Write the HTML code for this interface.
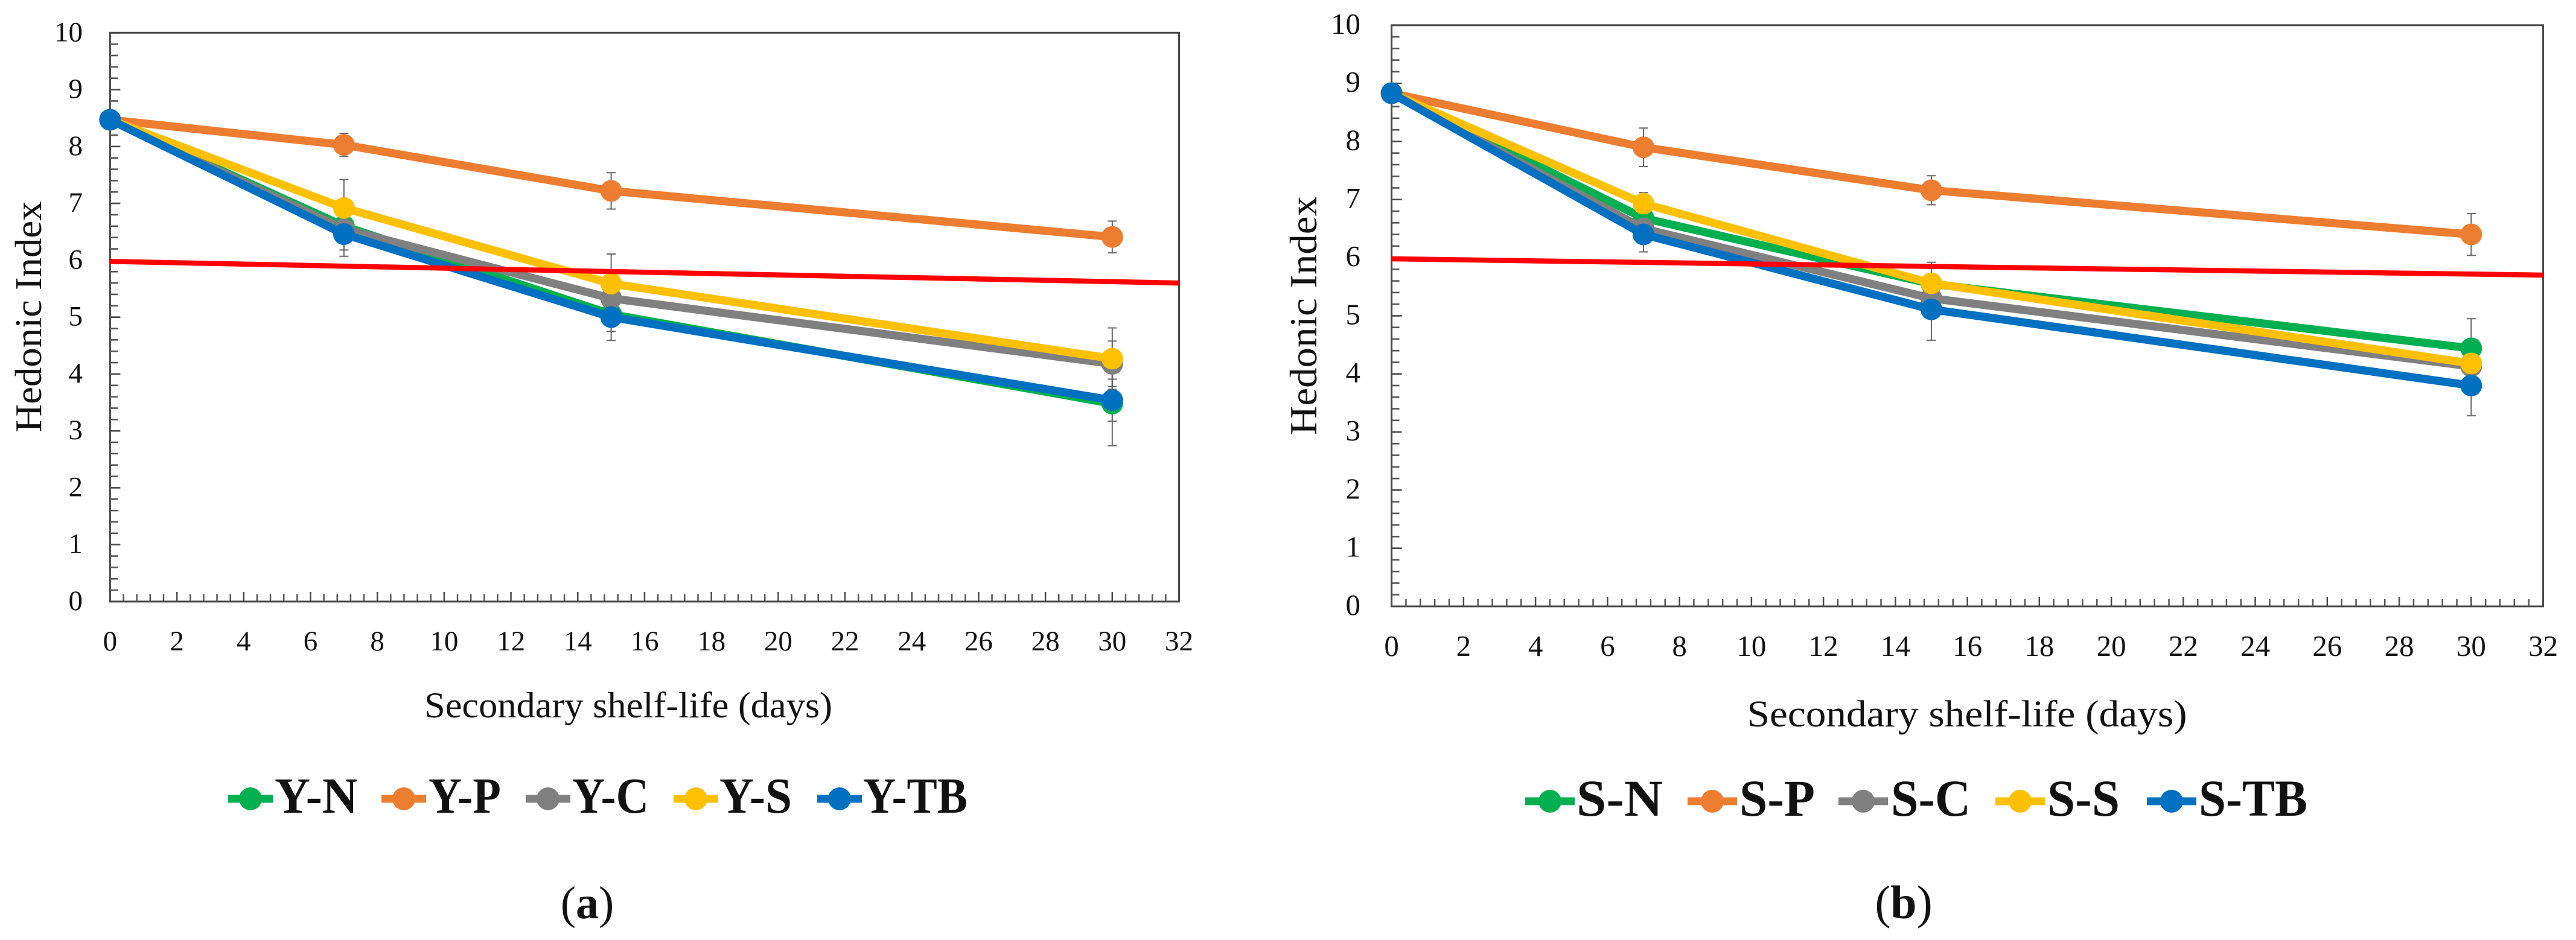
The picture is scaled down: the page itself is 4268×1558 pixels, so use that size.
<!DOCTYPE html>
<html lang="en">
<head>
<meta charset="utf-8">
<title>Hedonic Index over Secondary Shelf-life</title>
<style>
html,body{margin:0;padding:0;background:#fff;width:4268px;height:1558px;overflow:hidden}
svg{display:block}
text{font-family:"Liberation Serif",serif;fill:#111}
</style>
</head>
<body>
<svg id="figure" xmlns="http://www.w3.org/2000/svg" width="4268" height="1558" viewBox="0 0 4268 1558">
  <rect width="4268" height="1558" fill="#ffffff"/>
  <g id="panel-a"></g>
  <g id="panel-b"></g>

  <text transform="translate(68,525) rotate(-90)" text-anchor="middle" font-size="62" textLength="383" lengthAdjust="spacingAndGlyphs">Hedonic Index</text>
  <text x="1041" y="1189" text-anchor="middle" font-size="60" textLength="676" lengthAdjust="spacingAndGlyphs">Secondary shelf-life (days)</text>
  <text x="973" y="1522" text-anchor="middle" font-size="76">(<tspan font-weight="bold">a</tspan>)</text>

  <text transform="translate(2181,523) rotate(-90)" text-anchor="middle" font-size="64" textLength="396" lengthAdjust="spacingAndGlyphs">Hedonic Index</text>
  <text x="3259" y="1204" text-anchor="middle" font-size="62" textLength="729" lengthAdjust="spacingAndGlyphs">Secondary shelf-life (days)</text>
  <text x="3154" y="1522" text-anchor="middle" font-size="78">(<tspan font-weight="bold">b</tspan>)</text>
</svg>

<script>
// ---- Shared data ----
const days = [0, 7, 15, 30];
const xTickLabels = [0, 2, 4, 6, 8, 10, 12, 14, 16, 18, 20, 22, 24, 26, 28, 30, 32];
const yTickLabels = [0, 1, 2, 3, 4, 5, 6, 7, 8, 9, 10];
const thresholdDays = [0, 32];

// ---- Panel (a) values ----
const yNames = ['Y-N', 'Y-P', 'Y-C', 'Y-S', 'Y-TB'];
const yN = [8.47, 6.60, 5.05, 3.48];
const yP = [8.47, 8.03, 7.22, 6.41];
const yC = [8.47, 6.55, 5.33, 4.18];
const yS = [8.47, 6.92, 5.59, 4.27];
const yTB = [8.47, 6.46, 5.00, 3.54];
const yNErr = [0, 0.42, 0.30, 0.74];
const yPErr = [0, 0.20, 0.32, 0.28];
const yCErr = [0, 0.20, 0.30, 0.40];
const ySErr = [0, 0.50, 0.52, 0.54];
const yTBErr = [0, 0.39, 0.41, 0.37];
const thresholdA = [5.98, 5.60];

// ---- Panel (b) values ----
const sNames = ['S-N', 'S-P', 'S-C', 'S-S', 'S-TB'];
const sN = [8.83, 6.68, 5.55, 4.44];
const sP = [8.83, 7.90, 7.16, 6.40];
const sC = [8.83, 6.50, 5.30, 4.13];
const sS = [8.83, 6.93, 5.56, 4.18];
const sTB = [8.83, 6.40, 5.11, 3.80];
const sNErr = [0, 0.30, 0.30, 0.51];
const sPErr = [0, 0.33, 0.25, 0.36];
const sCErr = [0, 0.20, 0.30, 0.20];
const sSErr = [0, 0.19, 0.36, 0.20];
const sTBErr = [0, 0.30, 0.53, 0.52];
const thresholdB = [5.98, 5.70];

// ---- Styling ----
const seriesColors = ['#00B050', '#ED7D31', '#808080', '#FFC000', '#0070C0'];
const NS = 'http://www.w3.org/2000/svg';

function make(parent, tag, attrs) {
  const el = document.createElementNS(NS, tag);
  for (const k in attrs) el.setAttribute(k, attrs[k]);
  parent.appendChild(el);
  return el;
}

function drawPanel(root, cfg) {
  const sx = v => cfg.left + (v / 32) * (cfg.right - cfg.left);
  const sy = v => cfg.bottom - (v / 10) * (cfg.bottom - cfg.top);

  // Frame
  const frame = make(root, 'rect', {x: cfg.left, y: cfg.top, width: cfg.right - cfg.left, height: cfg.bottom - cfg.top, fill: 'none', stroke: '#4a4a4a', 'stroke-width': 3});
  
  

  // Y ticks: major on each label, four minors between
  yTickLabels.forEach((t, i) => {
    const major = make(root, 'line', {x1: cfg.left, x2: cfg.left + 17, y1: sy(t), y2: sy(t), stroke: '#4a4a4a', 'stroke-width': 2.6});
    
    
    const label = make(root, 'text', {x: cfg.yLabelX, y: sy(t) + 14, 'text-anchor': 'end', 'font-size': cfg.tickFont});
    label.textContent = t;
    
    
    if (i < yTickLabels.length - 1) {
      for (let m = 1; m < 5; m++) {
        const v = t + m * 0.2;
        const minor = make(root, 'line', {x1: cfg.left, x2: cfg.left + 13, y1: sy(v), y2: sy(v), stroke: '#555555', 'stroke-width': 2.6});
        
        
      }
    }
  });

  // X ticks: major on each label, four minors between
  xTickLabels.forEach((t, i) => {
    const major = make(root, 'line', {x1: sx(t), x2: sx(t), y1: cfg.bottom, y2: cfg.bottom - 16, stroke: '#4a4a4a', 'stroke-width': 2.5});
    
    
    const label = make(root, 'text', {x: sx(t), y: cfg.xLabelY, 'text-anchor': 'middle', 'font-size': cfg.tickFont});
    label.textContent = t;
    
    
    if (i < xTickLabels.length - 1) {
      for (let m = 1; m < 5; m++) {
        const v = t + m * 0.4;
        const minor = make(root, 'line', {x1: sx(v), x2: sx(v), y1: cfg.bottom, y2: cfg.bottom - 12, stroke: '#555555', 'stroke-width': 2.5});
        
        
      }
    }
  });

  // Error bars sit beneath the series
  cfg.series.forEach((vals, s) => {
    vals.forEach((v, i) => {
      const e = cfg.errors[s][i];
      if (!e) return;
      const x = sx(days[i]);
      const bar = make(root, 'path', {
        d: 'M' + x + ' ' + sy(v + e) + 'V' + sy(v - e) +
           'M' + (x - 7.5) + ' ' + sy(v + e) + 'H' + (x + 7.5) +
           'M' + (x - 7.5) + ' ' + sy(v - e) + 'H' + (x + 7.5),
        fill: 'none', stroke: '#666666', 'stroke-width': 2});
      
      
    });
  });

  // Series lines and markers
  cfg.series.forEach((vals, s) => {
    const line = make(root, 'polyline', {
      points: vals.map((v, i) => sx(days[i]) + ',' + sy(v)).join(' '),
      fill: 'none', stroke: seriesColors[s], 'stroke-width': 13.5, 'stroke-linejoin': 'round'});
    
    
    vals.forEach((v, i) => {
      const dot = make(root, 'circle', {cx: sx(days[i]), cy: sy(v), r: 18, fill: seriesColors[s]});
      
      
    });
  });

  // Red threshold line
  const red = make(root, 'line', {x1: sx(thresholdDays[0]), y1: sy(cfg.threshold[0]), x2: sx(thresholdDays[1]), y2: sy(cfg.threshold[1]), stroke: '#FF0000', 'stroke-width': 8.5});
  
  

  // Legend
  cfg.names.forEach((name, s) => {
    const entry = make(root, 'g', {});
    
    
    const cx = cfg.legendMarkerX[s];
    make(entry, 'line', {x1: cx - cfg.legendHalf, x2: cx + cfg.legendHalf, y1: cfg.legendY, y2: cfg.legendY, stroke: seriesColors[s], 'stroke-width': 13});
    make(entry, 'circle', {cx: cx, cy: cfg.legendY, r: 19, fill: seriesColors[s]});
    const t = make(entry, 'text', {x: cfg.legendTextX[s], y: cfg.legendBase, 'font-size': cfg.legendFont, 'font-weight': 'bold', textLength: cfg.legendTextW[s], lengthAdjust: 'spacingAndGlyphs', fill: '#000'});
    t.textContent = name;
  });
}

drawPanel(document.getElementById('panel-a'), {
  left: 182.4, right: 1953.5, top: 54.3, bottom: 997,
  yLabelX: 137, xLabelY: 1078, tickFont: 47,
  names: yNames,
  series: [yN, yP, yC, yS, yTB],
  errors: [yNErr, yPErr, yCErr, ySErr, yTBErr],
  threshold: thresholdA,
  legendMarkerX: [415, 669, 908, 1153, 1391],
  legendTextX: [455, 710, 948, 1192, 1430],
  legendTextW: [138, 120, 127, 120, 173],
  legendHalf: 37, legendY: 1324, legendBase: 1347, legendFont: 84
});

drawPanel(document.getElementById('panel-b'), {
  left: 2305.6, right: 4213.6, top: 41.8, bottom: 1005,
  yLabelX: 2254, xLabelY: 1087, tickFont: 49,
  names: sNames,
  series: [sN, sP, sC, sS, sTB],
  errors: [sNErr, sPErr, sCErr, sSErr, sTBErr],
  threshold: thresholdB,
  legendMarkerX: [2568, 2837, 3087, 3347, 3598],
  legendTextX: [2612, 2882, 3133, 3392, 3643],
  legendTextW: [143, 125, 132, 120, 180],
  legendHalf: 41, legendY: 1328, legendBase: 1352, legendFont: 86
});
</script>
</body>
</html>
